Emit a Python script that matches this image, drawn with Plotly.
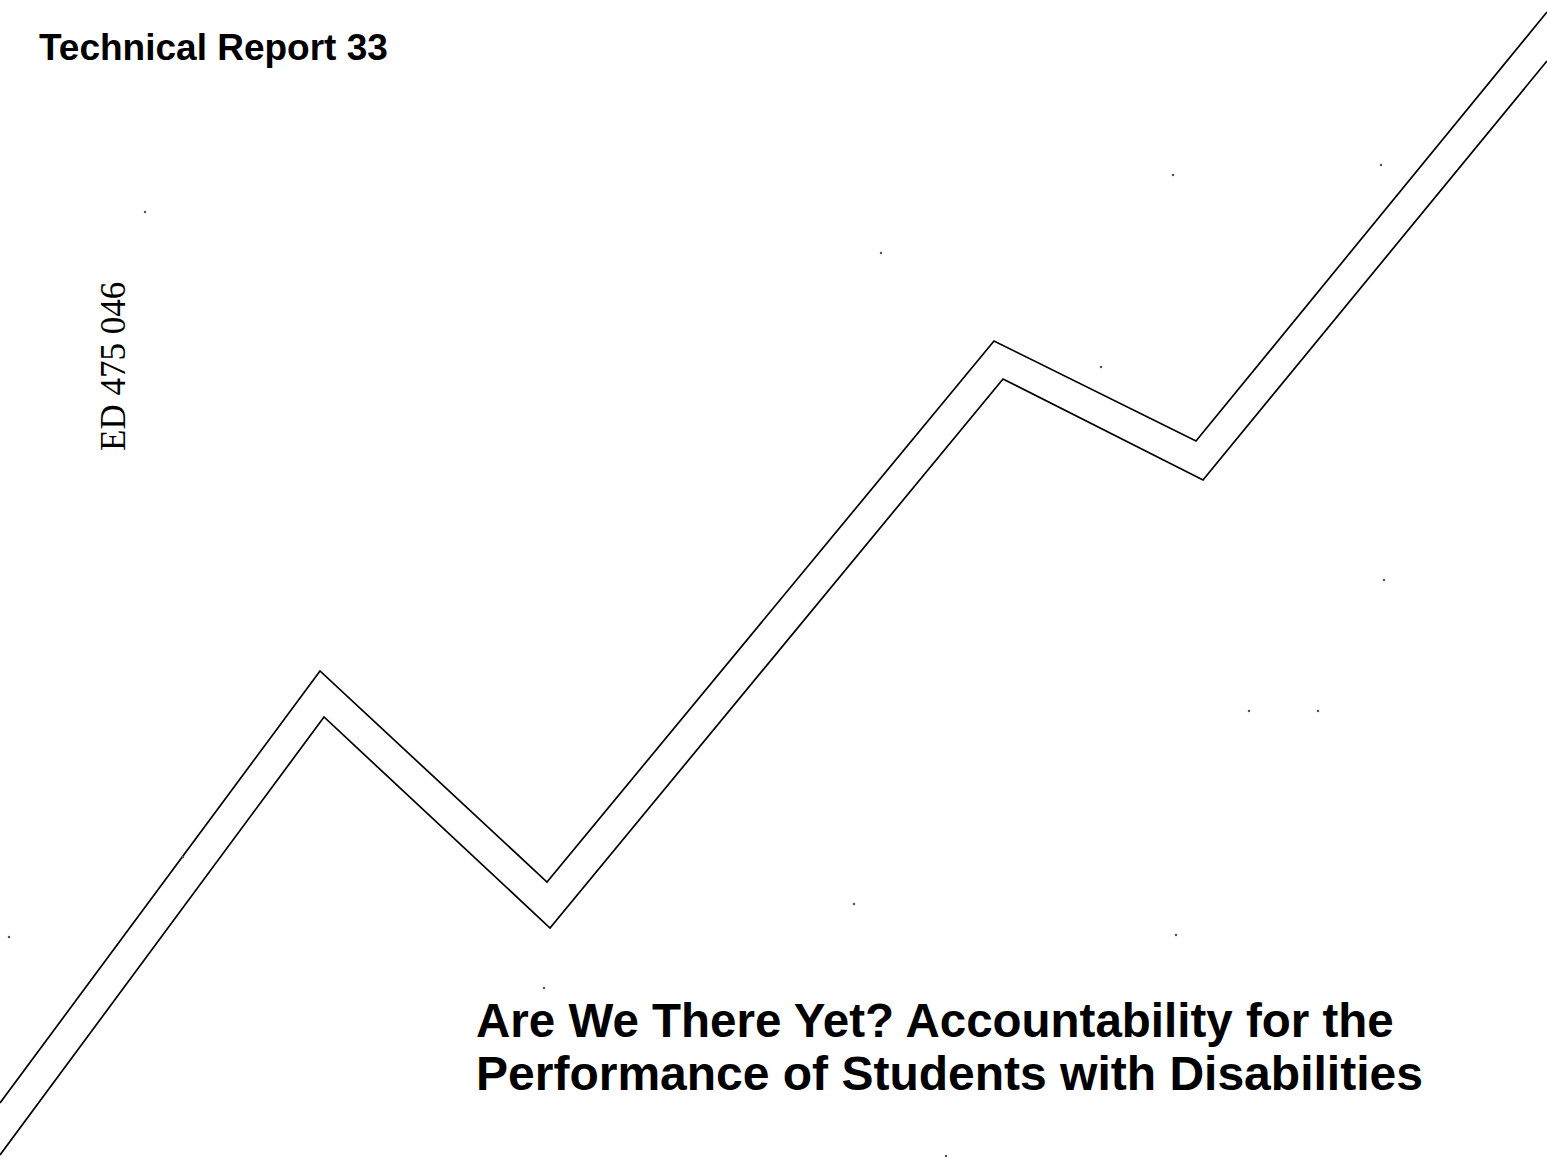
import plotly.graph_objects as go

# Zigzag line vertices (page pixel coordinates, y measured downward)
upper_x = [0, 320, 547, 994, 1196, 1547]
upper_y = [1103, 671, 882, 341, 441, 12]
lower_x = [0, 324, 550, 1003, 1203, 1547]
lower_y = [1155, 717, 928, 379, 480, 61]

# Scan specks
speck_x = [1173, 1381, 881, 1101, 1384, 1249, 1318, 854, 1176, 544, 946, 9, 145, 183]
speck_y = [175, 165, 253, 367, 580, 711, 711, 904, 935, 988, 1156, 937, 212, 857]

report_label = "Technical Report 33"
ed_label = "ED 475 046"
title_lines = ["Are We There Yet? Accountability for the",
               "Performance of Students with Disabilities"]

W, H = 1547, 1161

fig = go.Figure()
for xs, ys in [(upper_x, upper_y), (lower_x, lower_y)]:
    fig.add_trace(go.Scatter(x=xs, y=ys, mode="lines",
                             line=dict(color="black", width=1.7),
                             hoverinfo="skip", showlegend=False))
fig.add_trace(go.Scatter(x=speck_x, y=speck_y, mode="markers",
                         marker=dict(color="#555", size=2.5),
                         hoverinfo="skip", showlegend=False))

fig.add_annotation(x=37, y=47, xref="x", yref="y", text="<b>%s</b>" % report_label,
                   showarrow=False, xanchor="left", yanchor="middle",
                   font=dict(family="Liberation Sans, Arial", size=37, color="black"))
fig.add_annotation(x=113, y=367, xref="x", yref="y", text=ed_label, textangle=-90,
                   showarrow=False, xanchor="center", yanchor="middle",
                   font=dict(family="Liberation Serif, Times New Roman", size=35, color="black"))
fig.add_annotation(x=474, y=1020, xref="x", yref="y", text="<b>%s</b>" % title_lines[0],
                   showarrow=False, xanchor="left", yanchor="middle",
                   font=dict(family="Liberation Sans, Arial", size=47.5, color="black"))
fig.add_annotation(x=474, y=1073, xref="x", yref="y", text="<b>%s</b>" % title_lines[1],
                   showarrow=False, xanchor="left", yanchor="middle",
                   font=dict(family="Liberation Sans, Arial", size=48, color="black"))

fig.update_layout(width=W, height=H, margin=dict(l=0, r=0, t=0, b=0),
                  paper_bgcolor="white", plot_bgcolor="white")
fig.update_xaxes(range=[0, W], visible=False, fixedrange=True)
fig.update_yaxes(range=[H, 0], visible=False, fixedrange=True)

fig.write_html("out.html", config={"displayModeBar": False},
               post_script="document.body.style.margin='0px';document.body.style.overflow='hidden';")
